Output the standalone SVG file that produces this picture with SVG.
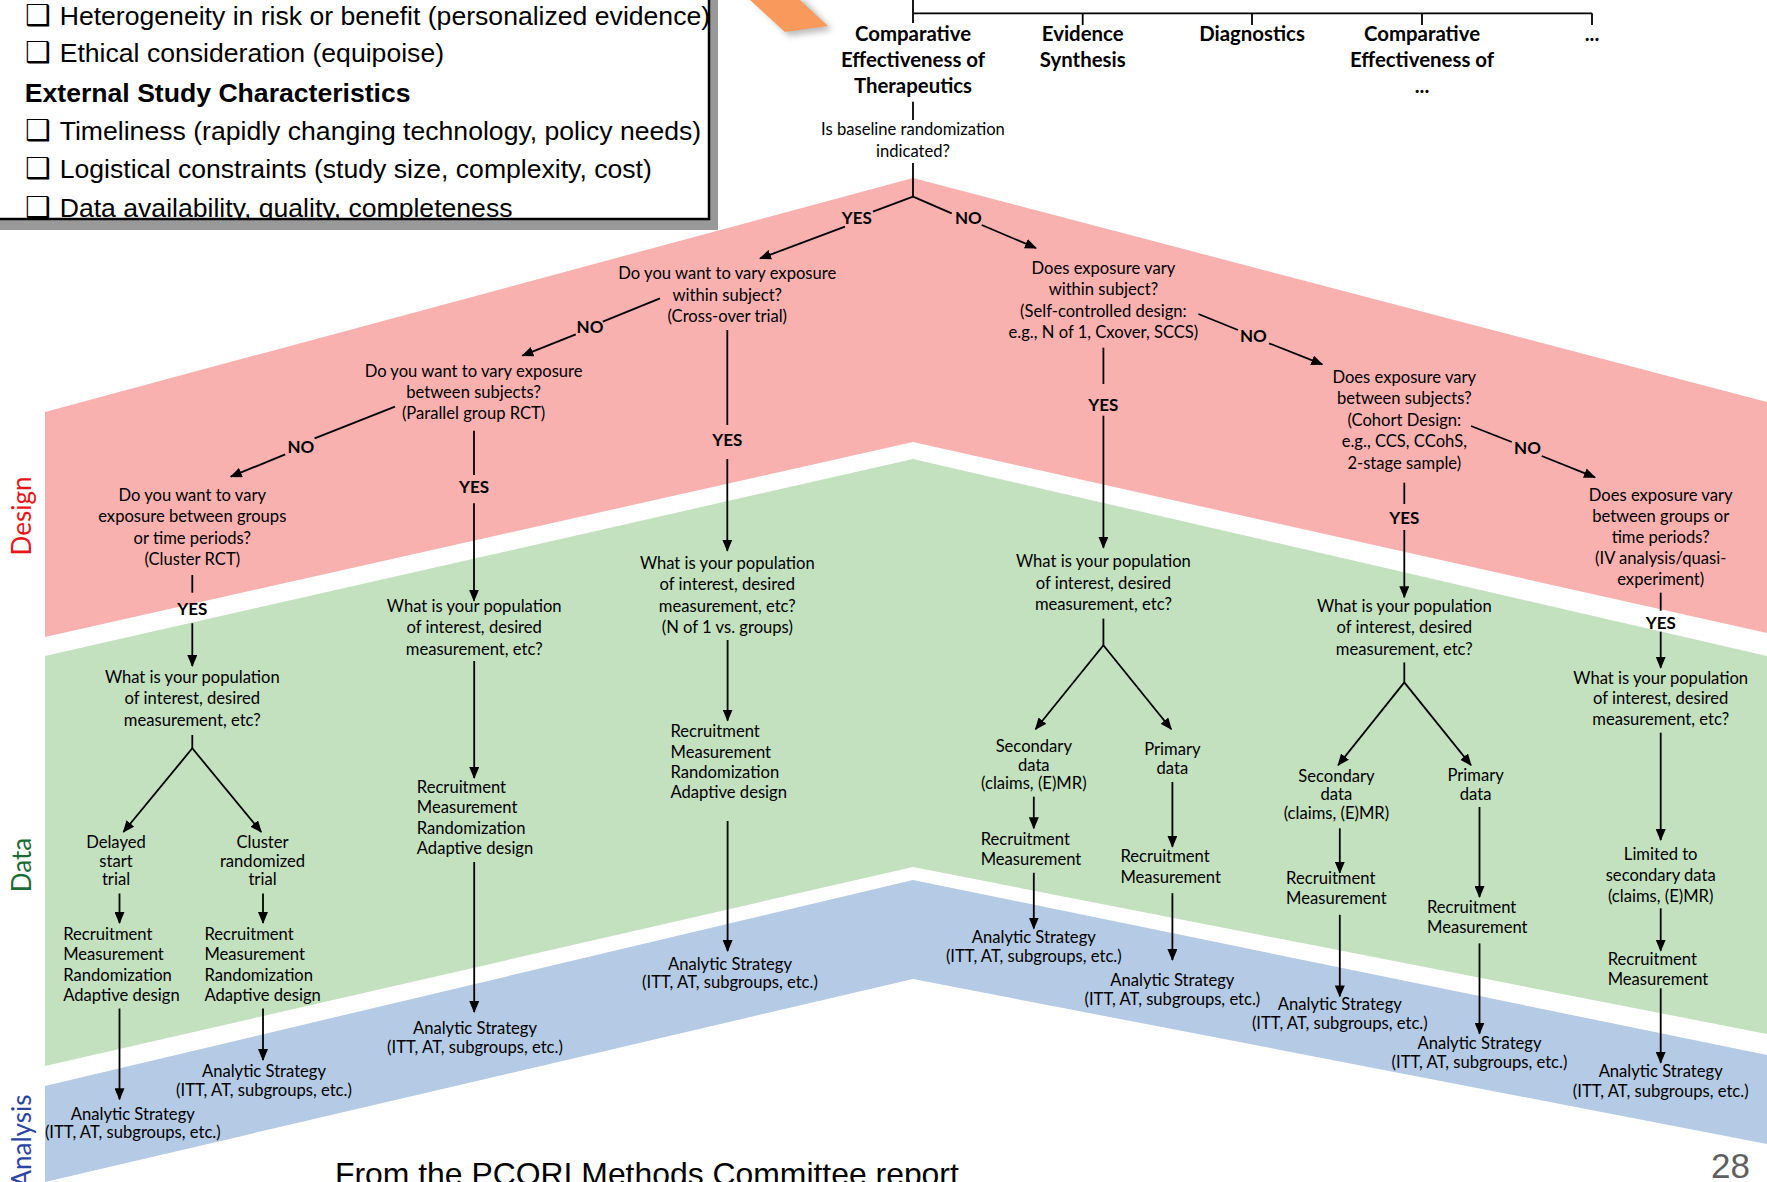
<svg xmlns="http://www.w3.org/2000/svg" width="1767" height="1182" viewBox="0 0 1767 1182">
<defs>
<style>
.t{font-family:Lato,"Noto Sans",sans-serif;font-size:16.6px;fill:#000;text-anchor:middle}
.l{text-anchor:start}
.b{font-weight:700;font-size:17px}
.h{font-weight:700;font-size:20.4px}
.c{stroke:#000;stroke-width:1.8;fill:none}
.a{marker-end:url(#ah)}
.bx{font-family:"Liberation Sans",Arial,sans-serif;font-size:26.6px;fill:#000}
.ck{font-family:"DejaVu Sans",sans-serif;font-size:29px;fill:#000}
.lab{font-family:Lato,"Noto Sans",sans-serif;font-size:26px;text-anchor:middle}
</style>
<marker id="ah" markerUnits="userSpaceOnUse" markerWidth="12" markerHeight="10" refX="11" refY="5" orient="auto" viewBox="0 0 12 10">
<path d="M0,0 L12,5 L0,10 z" fill="#000"/>
</marker>
<clipPath id="boxclip"><rect x="0" y="0" width="708" height="218"/></clipPath>
<filter id="sh" x="-50%" y="-50%" width="200%" height="200%"><feGaussianBlur stdDeviation="3"/></filter>
</defs>
<rect width="1767" height="1182" fill="#fff"/>

<g id="bands">
<polygon points="45,412 913,178 1767,402 1767,633 913,442 45,637" fill="#F9B1B0"/>
<polygon points="45,656 913,459 1767,656 1767,1034 913,867 45,1066" fill="#C3E0BF"/>
<polygon points="45,1086 913,880 1767,1055 1767,1144 913,979 45,1182" fill="#B5CAE4"/>
</g>

<g id="band-labels">
<text class="lab" fill="#E8141B" transform="translate(31,516) rotate(-90)">Design</text>
<text class="lab" fill="#1B6B35" transform="translate(31,865) rotate(-90)">Data</text>
<text class="lab" fill="#2B45A3" transform="translate(31,1141) rotate(-90)">Analysis</text>
</g>

<g id="criteria-box">
<rect x="-2" y="-1" width="720" height="231" fill="#999"/>
<rect x="-10" y="-10" width="719" height="229" fill="#fff" stroke="#000" stroke-width="2.5"/>
<g clip-path="url(#boxclip)">
<text class="ck" x="25" y="25">❑</text>
<text class="bx" x="59.7" y="25">Heterogeneity in risk or benefit (personalized evidence)</text>
<text class="ck" x="25" y="62">❑</text>
<text class="bx" x="59.7" y="62">Ethical consideration (equipoise)</text>
<text class="bx" x="24.8" y="102" font-weight="700">External Study Characteristics</text>
<text class="ck" x="25" y="140">❑</text>
<text class="bx" x="59.7" y="140">Timeliness (rapidly changing technology, policy needs)</text>
<text class="ck" x="25" y="178">❑</text>
<text class="bx" x="59.7" y="178">Logistical constraints (study size, complexity, cost)</text>
<text class="ck" x="25" y="217">❑</text>
<text class="bx" x="59.7" y="217">Data availability, quality, completeness</text>
</g>
</g>

<g id="orange-arrow">
<polygon points="754,0 804,0 832,30 789,36" fill="#777" opacity="0.5" filter="url(#sh)"/>
<polygon points="750,0 800,0 828,26 785,32" fill="#F99A5C"/>
</g>

<g id="connectors">
<line class="c" x1="913" y1="0" x2="913" y2="23"/>
<line class="c" x1="913" y1="13.3" x2="1592" y2="13.3" stroke-width="2.2"/>
<line class="c" x1="1082.7" y1="13.3" x2="1082.7" y2="25"/>
<line class="c" x1="1252" y1="13.3" x2="1252" y2="25"/>
<line class="c" x1="1422" y1="13.3" x2="1422" y2="25"/>
<line class="c" x1="1592" y1="13.3" x2="1592" y2="25"/>
<line class="c" x1="913" y1="101.7" x2="913" y2="120"/>
<line class="c" x1="913" y1="163" x2="913" y2="196.7"/>
<line class="c" x1="913" y1="196.7" x2="873" y2="211.7"/>
<line class="c a" x1="845" y1="226.7" x2="760" y2="258.5"/>
<line class="c" x1="913" y1="196.7" x2="951.7" y2="213.3"/>
<line class="c a" x1="981.7" y1="225" x2="1036" y2="248"/>

<line class="c" x1="660" y1="298.3" x2="602.8" y2="321.7"/>
<line class="c a" x1="575.8" y1="334.3" x2="522.4" y2="355.7"/>
<line class="c" x1="727.3" y1="330" x2="727.3" y2="425"/>
<line class="c a" x1="727.3" y1="459" x2="727.3" y2="550.7"/>

<line class="c" x1="395" y1="406.7" x2="314.6" y2="438.3"/>
<line class="c a" x1="285.3" y1="454.3" x2="230.8" y2="476.7"/>
<line class="c" x1="474" y1="430.7" x2="474" y2="475"/>
<line class="c a" x1="474" y1="503.3" x2="474" y2="600.7"/>

<line class="c" x1="192.3" y1="575" x2="192.3" y2="592.7"/>
<line class="c a" x1="192.3" y1="623.3" x2="192.3" y2="666"/>
<line class="c" x1="192.3" y1="735" x2="192.3" y2="748.3"/>
<line class="c a" x1="192.3" y1="748.3" x2="123.4" y2="832"/>
<line class="c a" x1="192.3" y1="748.3" x2="261.2" y2="832"/>
<line class="c a" x1="119.5" y1="893.5" x2="119.5" y2="923"/>
<line class="c a" x1="263" y1="893.5" x2="263" y2="923"/>
<line class="c a" x1="119.5" y1="1008.5" x2="119.5" y2="1099.3"/>
<line class="c a" x1="263" y1="1008.5" x2="263" y2="1060"/>

<line class="c a" x1="474.2" y1="661" x2="474.2" y2="778"/>
<line class="c a" x1="474.2" y1="862" x2="474.2" y2="1012"/>

<line class="c a" x1="727.6" y1="640" x2="727.6" y2="720.6"/>
<line class="c a" x1="727.6" y1="821" x2="727.6" y2="951"/>

<line class="c" x1="1198.4" y1="314" x2="1238" y2="330"/>
<line class="c a" x1="1269.1" y1="343.3" x2="1322.3" y2="364.3"/>
<line class="c" x1="1103.4" y1="347.7" x2="1103.4" y2="384"/>
<line class="c a" x1="1103.4" y1="415.7" x2="1103.4" y2="547.7"/>
<line class="c" x1="1103.4" y1="618.6" x2="1103.4" y2="645.3"/>
<line class="c a" x1="1103.4" y1="645.3" x2="1035.5" y2="729.2"/>
<line class="c a" x1="1103.4" y1="645.3" x2="1171.3" y2="729.2"/>
<line class="c a" x1="1033.8" y1="796.7" x2="1033.8" y2="828.3"/>
<line class="c a" x1="1172.4" y1="782" x2="1172.4" y2="846.8"/>
<line class="c a" x1="1033.8" y1="872.8" x2="1033.8" y2="928.5"/>
<line class="c a" x1="1172.4" y1="893.2" x2="1172.4" y2="960"/>

<line class="c" x1="1471" y1="426" x2="1511.8" y2="442"/>
<line class="c a" x1="1541.8" y1="456" x2="1595" y2="477.3"/>
<line class="c" x1="1404.3" y1="482.7" x2="1404.3" y2="504"/>
<line class="c a" x1="1404.3" y1="530" x2="1404.3" y2="597.3"/>
<line class="c" x1="1404.3" y1="662.4" x2="1404.3" y2="682.4"/>
<line class="c a" x1="1404.3" y1="682.4" x2="1338.1" y2="765.2"/>
<line class="c a" x1="1404.3" y1="682.4" x2="1471" y2="765.2"/>
<line class="c a" x1="1339.8" y1="828.3" x2="1339.8" y2="872.8"/>
<line class="c a" x1="1479.5" y1="807" x2="1479.5" y2="897"/>
<line class="c a" x1="1339.8" y1="914.8" x2="1339.8" y2="996.4"/>
<line class="c a" x1="1479.5" y1="943.4" x2="1479.5" y2="1033.6"/>

<line class="c" x1="1660.7" y1="592.7" x2="1660.7" y2="610.7"/>
<line class="c a" x1="1660.7" y1="631.7" x2="1660.7" y2="667.7"/>
<line class="c a" x1="1660.7" y1="732.7" x2="1660.7" y2="840"/>
<line class="c a" x1="1660.7" y1="908.3" x2="1660.7" y2="950.7"/>
<line class="c a" x1="1660.7" y1="988.3" x2="1660.7" y2="1062.7"/>
</g>

<g id="edge-labels">
<text class="t b" x="856.7" y="224.3">YES</text>
<text class="t b" x="968.3" y="224.3">NO</text>
<text class="t b" x="590" y="332.7">NO</text>
<text class="t b" x="727.3" y="446">YES</text>
<text class="t b" x="300.8" y="452.7">NO</text>
<text class="t b" x="474" y="493.3">YES</text>
<text class="t b" x="192.3" y="615">YES</text>
<text class="t b" x="1253.3" y="341.7">NO</text>
<text class="t b" x="1103.4" y="411">YES</text>
<text class="t b" x="1527.5" y="454">NO</text>
<text class="t b" x="1404.3" y="523.7">YES</text>
<text class="t b" x="1660.7" y="629.3">YES</text>
</g>

<g id="h-cet"><text class="t h" x="913" y="40.7">Comparative</text><text class="t h" x="913" y="66.7">Effectiveness of</text><text class="t h" x="913" y="93.3">Therapeutics</text></g>
<g id="h-es"><text class="t h" x="1082.7" y="40.7">Evidence</text><text class="t h" x="1082.7" y="66.7">Synthesis</text></g>
<g id="h-diag"><text class="t h" x="1252" y="40.7">Diagnostics</text></g>
<g id="h-ce2"><text class="t h" x="1422" y="40.7">Comparative</text><text class="t h" x="1422" y="66.7">Effectiveness of</text><text class="t h" x="1422" y="93.3">...</text></g>
<g id="h-more"><text class="t h" x="1592" y="40.7">...</text></g>

<g id="n-root"><text class="t" x="913" y="135">Is baseline randomization</text><text class="t" x="913" y="156.7">indicated?</text></g>

<g id="n-crossover"><text class="t" x="727.3" y="279.3">Do you want to vary exposure</text><text class="t" x="727.3" y="300.7">within subject?</text><text class="t" x="727.3" y="321.7">(Cross-over trial)</text></g>
<g id="n-parallel"><text class="t" x="473.6" y="377.3">Do you want to vary exposure</text><text class="t" x="473.6" y="398.3">between subjects?</text><text class="t" x="473.6" y="419.3">(Parallel group RCT)</text></g>
<g id="n-cluster"><text class="t" x="192.3" y="501">Do you want to vary</text><text class="t" x="192.3" y="522.3">exposure between groups</text><text class="t" x="192.3" y="543.5">or time periods?</text><text class="t" x="192.3" y="565">(Cluster RCT)</text></g>

<g id="n-cluster-pop"><text class="t" x="192.3" y="682.7">What is your population</text><text class="t" x="192.3" y="704.3">of interest, desired</text><text class="t" x="192.3" y="726">measurement, etc?</text></g>
<g id="n-delayed"><text class="t" x="116" y="848">Delayed</text><text class="t" x="116" y="866.5">start</text><text class="t" x="116" y="885">trial</text></g>
<g id="n-clusterrand"><text class="t" x="262.5" y="848">Cluster</text><text class="t" x="262.5" y="866.5">randomized</text><text class="t" x="262.5" y="885">trial</text></g>
<g id="n-delayed-rec"><text class="t l" x="63.2" y="939.6">Recruitment</text><text class="t l" x="63.2" y="960">Measurement</text><text class="t l" x="63.2" y="980.5">Randomization</text><text class="t l" x="63.2" y="1000.7">Adaptive design</text></g>
<g id="n-clusterrand-rec"><text class="t l" x="204.4" y="939.6">Recruitment</text><text class="t l" x="204.4" y="960">Measurement</text><text class="t l" x="204.4" y="980.5">Randomization</text><text class="t l" x="204.4" y="1000.7">Adaptive design</text></g>
<g id="n-delayed-an"><text class="t" x="132.8" y="1119.7">Analytic Strategy</text><text class="t" x="132.8" y="1138.2">(ITT, AT, subgroups, etc.)</text></g>
<g id="n-clusterrand-an"><text class="t" x="264" y="1077">Analytic Strategy</text><text class="t" x="264" y="1095.5">(ITT, AT, subgroups, etc.)</text></g>

<g id="n-parallel-pop"><text class="t" x="474.2" y="611.5">What is your population</text><text class="t" x="474.2" y="633">of interest, desired</text><text class="t" x="474.2" y="654.5">measurement, etc?</text></g>
<g id="n-parallel-rec"><text class="t l" x="416.8" y="793">Recruitment</text><text class="t l" x="416.8" y="813.4">Measurement</text><text class="t l" x="416.8" y="833.8">Randomization</text><text class="t l" x="416.8" y="853.8">Adaptive design</text></g>
<g id="n-parallel-an"><text class="t" x="475" y="1034.3">Analytic Strategy</text><text class="t" x="475" y="1052.9">(ITT, AT, subgroups, etc.)</text></g>

<g id="n-crossover-pop"><text class="t" x="727.3" y="569">What is your population</text><text class="t" x="727.3" y="590.3">of interest, desired</text><text class="t" x="727.3" y="611.5">measurement, etc?</text><text class="t" x="727.3" y="632.5">(N of 1 vs. groups)</text></g>
<g id="n-crossover-rec"><text class="t l" x="670.5" y="737.3">Recruitment</text><text class="t l" x="670.5" y="757.8">Measurement</text><text class="t l" x="670.5" y="778.2">Randomization</text><text class="t l" x="670.5" y="798">Adaptive design</text></g>
<g id="n-crossover-an"><text class="t" x="730" y="969.5">Analytic Strategy</text><text class="t" x="730" y="988">(ITT, AT, subgroups, etc.)</text></g>

<g id="n-selfctrl"><text class="t" x="1103.4" y="273.5">Does exposure vary</text><text class="t" x="1103.4" y="295">within subject?</text><text class="t" x="1103.4" y="316.5">(Self-controlled design:</text><text class="t" x="1103.4" y="338">e.g., N of 1, Cxover, SCCS)</text></g>
<g id="n-selfctrl-pop"><text class="t" x="1103.4" y="567.3">What is your population</text><text class="t" x="1103.4" y="588.5">of interest, desired</text><text class="t" x="1103.4" y="610">measurement, etc?</text></g>
<g id="n-sc-secondary"><text class="t" x="1033.8" y="752.2">Secondary</text><text class="t" x="1033.8" y="770.7">data</text><text class="t" x="1033.8" y="789.3">(claims, (E)MR)</text></g>
<g id="n-sc-primary"><text class="t" x="1172.4" y="755.2">Primary</text><text class="t" x="1172.4" y="773.5">data</text></g>
<g id="n-sc-secondary-rec"><text class="t l" x="980.7" y="845">Recruitment</text><text class="t l" x="980.7" y="865.4">Measurement</text></g>
<g id="n-sc-primary-rec"><text class="t l" x="1120.4" y="862.4">Recruitment</text><text class="t l" x="1120.4" y="882.9">Measurement</text></g>
<g id="n-sc-secondary-an"><text class="t" x="1033.8" y="943.3">Analytic Strategy</text><text class="t" x="1033.8" y="961.9">(ITT, AT, subgroups, etc.)</text></g>
<g id="n-sc-primary-an"><text class="t" x="1172.4" y="986">Analytic Strategy</text><text class="t" x="1172.4" y="1004.6">(ITT, AT, subgroups, etc.)</text></g>

<g id="n-cohort"><text class="t" x="1404.3" y="383.3">Does exposure vary</text><text class="t" x="1404.3" y="404.3">between subjects?</text><text class="t" x="1404.3" y="425.7">(Cohort Design:</text><text class="t" x="1404.3" y="447.3">e.g., CCS, CCohS,</text><text class="t" x="1404.3" y="469">2-stage sample)</text></g>
<g id="n-cohort-pop"><text class="t" x="1404.3" y="611.5">What is your population</text><text class="t" x="1404.3" y="633">of interest, desired</text><text class="t" x="1404.3" y="654.5">measurement, etc?</text></g>
<g id="n-co-secondary"><text class="t" x="1336.4" y="781.9">Secondary</text><text class="t" x="1336.4" y="800.4">data</text><text class="t" x="1336.4" y="819">(claims, (E)MR)</text></g>
<g id="n-co-primary"><text class="t" x="1475.6" y="781">Primary</text><text class="t" x="1475.6" y="799.5">data</text></g>
<g id="n-co-secondary-rec"><text class="t l" x="1286.1" y="884">Recruitment</text><text class="t l" x="1286.1" y="904.4">Measurement</text></g>
<g id="n-co-primary-rec"><text class="t l" x="1427" y="913">Recruitment</text><text class="t l" x="1427" y="933.3">Measurement</text></g>
<g id="n-co-secondary-an"><text class="t" x="1339.8" y="1010.2">Analytic Strategy</text><text class="t" x="1339.8" y="1028.7">(ITT, AT, subgroups, etc.)</text></g>
<g id="n-co-primary-an"><text class="t" x="1479.5" y="1049.1">Analytic Strategy</text><text class="t" x="1479.5" y="1067.7">(ITT, AT, subgroups, etc.)</text></g>

<g id="n-iv"><text class="t" x="1660.7" y="500.7">Does exposure vary</text><text class="t" x="1660.7" y="521.7">between groups or</text><text class="t" x="1660.7" y="542.7">time periods?</text><text class="t" x="1660.7" y="564">(IV analysis/quasi-</text><text class="t" x="1660.7" y="585">experiment)</text></g>
<g id="n-iv-pop"><text class="t" x="1660.7" y="684">What is your population</text><text class="t" x="1660.7" y="704.3">of interest, desired</text><text class="t" x="1660.7" y="725.3">measurement, etc?</text></g>
<g id="n-iv-limited"><text class="t" x="1660.7" y="860">Limited to</text><text class="t" x="1660.7" y="881">secondary data</text><text class="t" x="1660.7" y="901.7">(claims, (E)MR)</text></g>
<g id="n-iv-rec"><text class="t l" x="1607.7" y="965">Recruitment</text><text class="t l" x="1607.7" y="984.5">Measurement</text></g>
<g id="n-iv-an"><text class="t" x="1660.7" y="1077.3">Analytic Strategy</text><text class="t" x="1660.7" y="1096.7">(ITT, AT, subgroups, etc.)</text></g>

<g id="footer">
<text x="335" y="1185" font-family="Liberation Sans, Arial, sans-serif" font-size="31.9" fill="#000">From the PCORI Methods Committee report</text>
<text x="1711" y="1178" font-family="Liberation Sans, Arial, sans-serif" font-size="35" fill="#5f5f5f">28</text>
</g>
</svg>
